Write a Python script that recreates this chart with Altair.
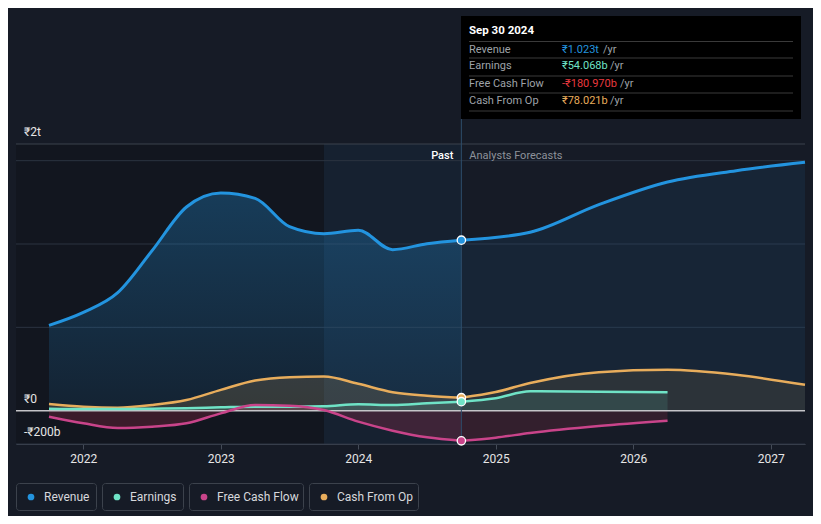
import altair as alt
import pandas as pd

# ---------------- data (values in ₹ billions, time in decimal years) ----------------
past_t = [2021.75, 2022.0, 2022.25, 2022.5, 2022.75, 2023.0, 2023.25, 2023.5,
          2023.75, 2024.0, 2024.25, 2024.5, 2024.75]
revenue_past = [512, 590, 708, 960, 1222, 1306, 1274, 1104, 1062, 1082, 966, 1002, 1023]
earnings_past = [12, 10, 10, 12, 15, 20, 24, 24, 26, 38, 34, 44, 54]
fcf_past = [-36, -76, -104, -96, -76, -16, 34, 30, 4, -66, -120, -160, -181]
cfo_past = [40, 24, 18, 34, 64, 125, 181, 201, 205, 161, 111, 90, 78]

rev_fc_t = [2024.75, 2025.25, 2025.75, 2026.25, 2026.75, 2027.25]
revenue_fc = [1023, 1070, 1236, 1372, 1440, 1490]

cfo_fc_t = [2024.75, 2025.0, 2025.25, 2025.75, 2026.25, 2026.75, 2027.25]
cfo_fc = [78, 112, 166, 231, 245, 215, 155]

fc_t_short = [2024.75, 2025.0, 2025.25, 2025.75, 2026.25]
earnings_fc = [54, 75, 116, 113, 110]
fcf_fc = [-181, -162, -134, -92, -60]

series_names = ["Revenue", "Earnings", "Free Cash Flow", "Cash From Op"]
series_colors = ["#2394df", "#6fe3c6", "#c9448a", "#e8ad5c"]
tooltip_values = ["₹1.023t", "₹54.068b", "-₹180.970b", "₹78.021b"]
tooltip_value_colors = ["#2394df", "#6fe3c6", "#e8393f", "#e8ad5c"]
tooltip_date = "Sep 30 2024"

year_ticks = [2022, 2023, 2024, 2025, 2026, 2027]
y_grid = [500, 1000, 1500]
y_labels = [1600, 0, -200]
y_label_text = ["₹2t", "₹0", "-₹200b"]

X_DOMAIN = [2021.51, 2027.25]
Y_DOMAIN = [-200, 1600]
PAST_END = 2024.75
BAND_START = 2023.75

W, H = 789, 300
FONT = "Roboto"

x_scale = alt.Scale(domain=X_DOMAIN, nice=False, zero=False)
y_scale = alt.Scale(domain=Y_DOMAIN, nice=False, zero=False)
X_AXIS = alt.Axis(values=year_ticks, labelExpr="format(datum.value, 'd')", title=None,
                  grid=False, domainColor="#444b57", tickColor="#444b57", tickSize=5,
                  labelColor="#e6e6e6", labelFontSize=12, labelFont=FONT,
                  labelPadding=4, labelFlush=False)


def xq(field="t"):
    return alt.X(f"{field}:Q", scale=x_scale, axis=X_AXIS)


def frame(t, v):
    return pd.DataFrame({"t": t, "v": v})


Y = alt.Y("v:Q", scale=y_scale, axis=None)

layers = []

# background regions
dark = pd.DataFrame({"t": [X_DOMAIN[0]], "b": [BAND_START]})
band = pd.DataFrame({"t": [BAND_START], "b": [PAST_END]})
layers.append(alt.Chart(dark).mark_rect(color="#0e1219", opacity=0.45).encode(
    x=xq(), x2="b:Q", y=alt.value(0), y2=alt.value(H)))
layers.append(alt.Chart(band).mark_rect(color="#1b5486", opacity=0.10).encode(
    x=xq(), x2="b:Q", y=alt.value(0), y2=alt.value(H)))

# grid lines
grid_df = pd.DataFrame({"v": y_grid + [-200]})
layers.append(alt.Chart(grid_df).mark_rule(color="#2b3340", strokeWidth=1).encode(
    y=alt.Y("v:Q", scale=y_scale, axis=None)))
top_df = pd.DataFrame({"v": [1600]})
layers.append(alt.Chart(top_df).mark_rule(color="#3b424d", strokeWidth=1).encode(
    y=alt.Y("v:Q", scale=y_scale, axis=None)))

# areas
rev_grad = alt.Gradient(gradient="linear", x1=0, x2=0, y1=0, y2=1,
                        stops=[alt.GradientStop(color="rgba(35,148,223,0.30)", offset=0),
                               alt.GradientStop(color="rgba(35,148,223,0.10)", offset=1)])
layers.append(alt.Chart(frame(past_t, revenue_past)).mark_area(color=rev_grad, interpolate="monotone").encode(
    x=xq(), y=Y, y2=alt.datum(0)))
layers.append(alt.Chart(frame(rev_fc_t, revenue_fc)).mark_area(color="#2394df", opacity=0.09, interpolate="monotone").encode(
    x=xq(), y=Y, y2=alt.datum(0)))

for t, v, col, op in [(past_t, cfo_past, "#e8ad5c", 0.16), (cfo_fc_t, cfo_fc, "#e8ad5c", 0.10),
                      (past_t, earnings_past, "#6fe3c6", 0.14), (fc_t_short, earnings_fc, "#6fe3c6", 0.12),
                      (past_t, fcf_past, "#b8304f", 0.25), (fc_t_short, fcf_fc, "#b8304f", 0.18)]:
    layers.append(alt.Chart(frame(t, v)).mark_area(color=col, opacity=op, interpolate="monotone").encode(
        x=xq(), y=Y, y2=alt.datum(0)))

# zero line
layers.append(alt.Chart(pd.DataFrame({"v": [0]})).mark_rule(color="#c4c4c8", strokeWidth=1.5).encode(
    y=alt.Y("v:Q", scale=y_scale, axis=None)))

# vertical "now" line
layers.append(alt.Chart(pd.DataFrame({"t": [PAST_END]})).mark_rule(color="#2e4d6b", strokeWidth=1).encode(
    x=xq(), y=alt.value(-25), y2=alt.value(H)))

# lines
line_sets = [
    (past_t, revenue_past, rev_fc_t, revenue_fc, 0, 3),
    (past_t, cfo_past, cfo_fc_t, cfo_fc, 3, 2.5),
    (past_t, earnings_past, fc_t_short, earnings_fc, 1, 2.5),
    (past_t, fcf_past, fc_t_short, fcf_fc, 2, 2.5),
]
for pt, pv, ft, fv, idx, sw in line_sets:
    for t, v in [(pt, pv), (ft, fv)]:
        layers.append(alt.Chart(frame(t, v)).mark_line(color=series_colors[idx], strokeWidth=sw,
                                                       interpolate="monotone").encode(x=xq(), y=Y))

# end-of-past markers
dots = pd.DataFrame({"t": [PAST_END] * 4,
                     "v": [revenue_past[-1], cfo_past[-1], earnings_past[-1], fcf_past[-1]],
                     "c": [series_colors[0], series_colors[3], series_colors[1], series_colors[2]]})
layers.append(alt.Chart(dots).mark_circle(size=70, opacity=1, stroke="white", strokeWidth=1.3).encode(
    x=xq(), y=Y, color=alt.Color("c:N", scale=None)))

# y labels
ylab = pd.DataFrame({"v": y_labels, "txt": y_label_text})
layers.append(alt.Chart(ylab).mark_text(align="left", baseline="middle", dx=0, dy=-12, fontSize=12,
                                        font=FONT, color="#e6e6e6").encode(
    x=alt.value(8), y=alt.Y("v:Q", scale=y_scale, axis=None), text="txt:N"))

# Past / Analysts Forecasts
pf = pd.DataFrame({"t": [PAST_END]})
layers.append(alt.Chart(pf).mark_text(align="right", baseline="middle", dx=-8, fontSize=11, font=FONT,
                                      color="#ffffff", fontWeight=500, text="Past").encode(
    x=xq(), y=alt.value(12)))
layers.append(alt.Chart(pf).mark_text(align="left", baseline="middle", dx=8, fontSize=11, font=FONT,
                                      color="#8d929a", text="Analysts Forecasts").encode(
    x=xq(), y=alt.value(12)))

# tooltip box
one = pd.DataFrame({"k": [0]})
layers.append(alt.Chart(one).mark_rect(color="#000000").encode(
    x=alt.value(445), x2=alt.value(785), y=alt.value(-128), y2=alt.value(-25)))
layers.append(alt.Chart(one).mark_text(align="left", baseline="middle", fontSize=11.5, font=FONT,
                                       fontWeight="bold", color="#ffffff", text=tooltip_date).encode(
    x=alt.value(453), y=alt.value(-113)))
for yy in [-102.5, -86, -68, -51, -33]:
    layers.append(alt.Chart(one).mark_rule(color="#3a3a3a", strokeWidth=1).encode(
        x=alt.value(453), x2=alt.value(777), y=alt.value(yy)))
row_y = [-94.5, -78, -60, -43]
yr_x = [587, 594, 604, 594]
for i in range(4):
    layers.append(alt.Chart(one).mark_text(align="left", baseline="middle", fontSize=11, font=FONT,
                                           color="#9ea2a8", text=series_names[i]).encode(
        x=alt.value(453), y=alt.value(row_y[i])))
    layers.append(alt.Chart(one).mark_text(align="left", baseline="middle", fontSize=11, font=FONT,
                                           color=tooltip_value_colors[i], text=tooltip_values[i]).encode(
        x=alt.value(546), y=alt.value(row_y[i])))
    layers.append(alt.Chart(one).mark_text(align="left", baseline="middle", fontSize=11, font=FONT,
                                           color="#9ea2a8", text="/yr").encode(
        x=alt.value(yr_x[i]), y=alt.value(row_y[i])))

# legend boxes
box_x = [(0, 81), (86, 168), (173, 288), (293, 403)]
for i, (a, b) in enumerate(box_x):
    layers.append(alt.Chart(one).mark_rect(fill="#161b26", stroke="#3c424c", strokeWidth=1,
                                           cornerRadius=3).encode(
        x=alt.value(a + 0.5), x2=alt.value(b - 0.5), y=alt.value(339.5), y2=alt.value(366.5)))
    layers.append(alt.Chart(one).mark_circle(size=45, opacity=1, color=series_colors[i]).encode(
        x=alt.value(a + 15), y=alt.value(353)))
    layers.append(alt.Chart(one).mark_text(align="left", baseline="middle", fontSize=12, font=FONT,
                                           color="#d6d8dc", text=series_names[i]).encode(
        x=alt.value(a + 28), y=alt.value(353)))

chart = alt.layer(*layers).properties(
    width=W, height=H,
    autosize=alt.AutoSizeParams(type="none"),
    padding={"left": 8, "top": 136, "right": 8, "bottom": 72},
    background="#161b26",
).configure_view(stroke=None)

chart.save("out.html", embed_options={"renderer": "svg", "actions": False})
